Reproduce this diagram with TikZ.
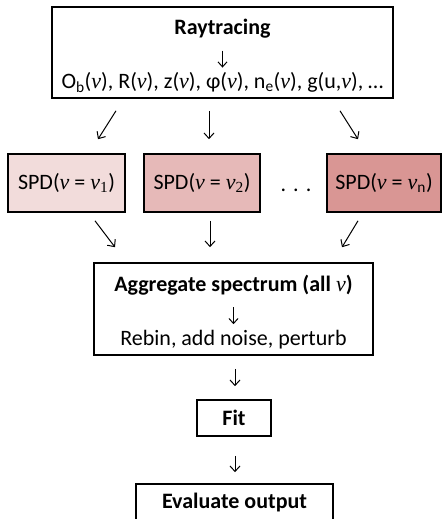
\documentclass[tikz,border=0pt]{standalone}
\usepackage{fontspec}
\setmainfont{Carlito}
\newfontfamily\nufont{Liberation Serif}
\usetikzlibrary{arrows.meta}
\newcommand\nuv{{\nufont\itshape\mdseries ν}}
\newcommand\darr{\tikz[baseline=0pt]\draw[line width=1pt,-{Straight Barb[length=5pt,width=9pt,line width=1pt]}] (0pt,11pt) -- (0pt,-6pt);}
\newcommand\topgap{\rule{0pt}{22pt}}
\definecolor{pinkA}{HTML}{F2DCDB}
\definecolor{pinkB}{HTML}{E6B9B8}
\definecolor{pinkC}{HTML}{D99694}
\tikzset{
  box/.style={draw=black, line width=1.6pt, rectangle, inner sep=0pt, align=center,
    font=\fontsize{22}{27}\selectfont},
  conn/.style={line width=1pt, -{Straight Barb[length=5.5pt,width=10pt,line width=1pt]}}
}
\begin{document}
\begin{tikzpicture}[x=1pt,y=-1pt]
\useasboundingbox (0,0) rectangle (442,519);
\node[box, minimum width=341pt, minimum height=91pt] (top) at (222.5,52.5)
  {\topgap\textbf{Raytracing}\\ \darr\\ O\textsubscript{b}(\nuv), R(\nuv), z(\nuv), φ(\nuv), n\textsubscript{e}(\nuv), g(u,\nuv), …};
\node[box, fill=pinkA, minimum width=117pt, minimum height=58pt] (spd1) at (66.5,183)
  {SPD(\nuv{} = \nuv\textsubscript{\nufont 1})};
\node[box, fill=pinkB, minimum width=116pt, minimum height=58pt] (spd2) at (202,183)
  {SPD(\nuv{} = \nuv\textsubscript{\nufont 2})};
\node[box, fill=pinkC, minimum width=114pt, minimum height=58pt] (spd3) at (384,183)
  {SPD(\nuv{} = \nuv\textsubscript{n})};
\node[font=\fontsize{22}{22}\selectfont, inner sep=0pt] (dots) at (296,190) {.\hspace{7pt}.\hspace{7pt}.};
\node[box, minimum width=279pt, minimum height=92pt] (agg) at (233.5,309)
  {\topgap\textbf{Aggregate spectrum (all \nuv)}\\ \darr\\ Rebin, add noise, perturb};
\node[box, minimum width=74pt, minimum height=36pt] (fit) at (234,418) {\textbf{Fit}};
\node[box, minimum width=197pt, minimum height=37pt] (eval) at (234.5,502.5) {\textbf{Evaluate output}};
\draw[conn] ([xshift=-106.5pt,yshift=-12pt]top.south) -- ([xshift=31.5pt,yshift=14pt]spd1.north);
\draw[conn] ([xshift=-13.5pt,yshift=-12pt]top.south) -- ([xshift=7pt,yshift=14pt]spd2.north);
\draw[conn] ([xshift=117.5pt,yshift=-12pt]top.south) -- ([xshift=-26pt,yshift=14pt]spd3.north);
\draw[conn] ([xshift=28.5pt,yshift=-8pt]spd1.south) -- ([xshift=-118.5pt,yshift=15pt]agg.north);
\draw[conn] ([xshift=8pt,yshift=-8pt]spd2.south) -- ([xshift=-23.5pt,yshift=15pt]agg.north);
\draw[conn] ([xshift=-26pt,yshift=-8pt]spd3.south) -- ([xshift=108.5pt,yshift=15pt]agg.north);
\draw[conn] ([xshift=1.5pt,yshift=-13pt]agg.south) -- ([xshift=1pt,yshift=13pt]fit.north);
\draw[conn] ([xshift=1pt,yshift=-19pt]fit.south) -- ([xshift=0.5pt,yshift=11pt]eval.north);
\end{tikzpicture}
\end{document}
